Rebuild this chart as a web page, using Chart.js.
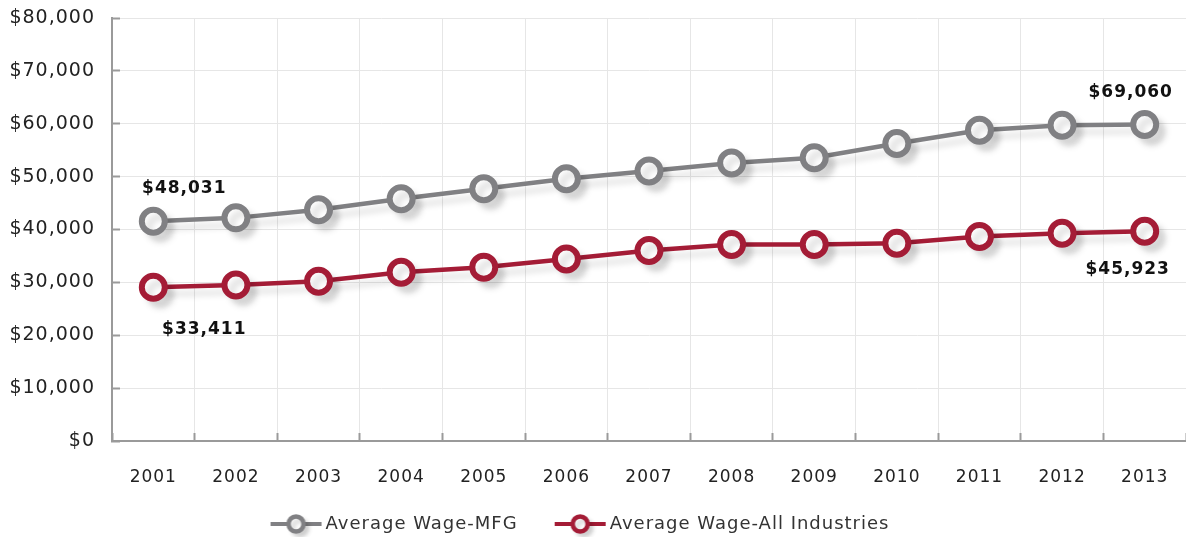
<!DOCTYPE html>
<html>
<head>
<meta charset="utf-8">
<script src="https://cdn.jsdelivr.net/npm/chart.js@4/dist/chart.umd.min.js"></script>
<style>
  html, body { margin: 0; padding: 0; background: #fff; }
  canvas { display: block; }
</style>
</head>
<body>
<canvas id="wageChart" width="1186" height="537"></canvas>
<script>
// ---- data ----
const years = ["2001", "2002", "2003", "2004", "2005", "2006", "2007", "2008", "2009", "2010", "2011", "2012", "2013"];
const wageMfg = [41570, 42200, 43740, 45820, 47720, 49610, 51050, 52570, 53590, 56250, 58770, 59720, 59850];
const wageAll = [29060, 29520, 30200, 31910, 32860, 34440, 36020, 37160, 37160, 37410, 38670, 39300, 39680];
const seriesNames = ["Average Wage-MFG", "Average Wage-All Industries"];
// value callouts: first and last point of each series
const mfgCallouts = ["$48,031", "$69,060"];
const allCallouts = ["$33,411", "$45,923"];

const GRAY = "#808083";
const RED = "#a41c36";
const FONT = "'DejaVu Sans', sans-serif";

// legend icon: short line with a ring in the middle
function legendIcon(color) {
  const c = document.createElement("canvas");
  c.width = 66;
  c.height = 30;
  const g = c.getContext("2d");
  g.strokeStyle = color;
  g.lineWidth = 4;
  g.beginPath();
  g.moveTo(12, 15);
  g.lineTo(63, 15);
  g.stroke();
  g.shadowColor = "rgba(0,0,0,0.15)";
  g.shadowOffsetX = 4;
  g.shadowOffsetY = 4;
  g.shadowBlur = 4;
  g.fillStyle = "#fff";
  g.lineWidth = 4.5;
  g.beginPath();
  g.arc(37.5, 15, 7.5, 0, Math.PI * 2);
  g.fill();
  g.stroke();
  return c;
}
const icons = [legendIcon(GRAY), legendIcon(RED)];

// letter spacing on the canvas (gets reset when the canvas is sized)
const spacing = {
  id: "spacing",
  beforeLayout(chart) { chart.ctx.letterSpacing = "1px"; },
  beforeDraw(chart) { chart.ctx.letterSpacing = "1px"; },
  // legend sits a bit left of centre in the original
  afterLayout(chart) { chart.legend.left -= 30; }
};

// soft drop shadow under lines and markers
const shadow = {
  id: "shadow",
  beforeDatasetsDraw(chart) {
    const ctx = chart.ctx;
    ctx.save();
    ctx.shadowColor = "rgba(0,0,0,0.13)";
    ctx.shadowOffsetX = 7;
    ctx.shadowOffsetY = 7;
    ctx.shadowBlur = 6;
  },
  afterDatasetsDraw(chart) {
    chart.ctx.restore();
  }
};

// bold value callouts next to first / last points
const callouts = {
  id: "callouts",
  afterDatasetsDraw(chart) {
    const ctx = chart.ctx;
    const last = years.length - 1;
    const m = chart.getDatasetMeta(0).data;
    const a = chart.getDatasetMeta(1).data;
    const items = [
      [mfgCallouts[0], m[0].x + 31, m[0].y - 33],
      [mfgCallouts[1], m[last].x - 14, m[last].y - 32],
      [allCallouts[0], a[0].x + 51, a[0].y + 42],
      [allCallouts[1], a[last].x - 17, a[last].y + 38]
    ];
    ctx.save();
    ctx.letterSpacing = "1px";
    ctx.font = "bold 17px " + FONT;
    ctx.fillStyle = "#111";
    ctx.textAlign = "center";
    ctx.textBaseline = "middle";
    items.forEach(([t, x, y]) => ctx.fillText(t, x, y));
    ctx.restore();
  }
};

new Chart(document.getElementById("wageChart"), {
  type: "line",
  data: {
    labels: years,
    datasets: [
      {
        label: seriesNames[0],
        data: wageMfg,
        borderColor: GRAY,
        borderWidth: 4.5,
        pointRadius: 11.5,
        pointHoverRadius: 11.5,
        pointBorderWidth: 6,
        pointBackgroundColor: "#fff",
        pointBorderColor: GRAY,
        tension: 0,
        clip: false
      },
      {
        label: seriesNames[1],
        data: wageAll,
        borderColor: RED,
        borderWidth: 4.5,
        pointRadius: 11.5,
        pointHoverRadius: 11.5,
        pointBorderWidth: 6,
        pointBackgroundColor: "#fff",
        pointBorderColor: RED,
        tension: 0,
        clip: false
      }
    ]
  },
  options: {
    responsive: false,
    animation: false,
    layout: { autoPadding: false, padding: { top: 18, right: 0, bottom: -6, left: 0 } },
    plugins: {
      tooltip: { enabled: false },
      legend: {
        position: "bottom",
        labels: {
          usePointStyle: true,
          pointStyleWidth: 50,
          padding: 33,
          color: "#333",
          font: { family: FONT, size: 18 },
          generateLabels: chart => chart.data.datasets.map((ds, i) => ({
            text: ds.label,
            pointStyle: icons[i],
            fillStyle: "#fff",
            strokeStyle: ds.borderColor,
            lineWidth: 0,
            hidden: false,
            datasetIndex: i,
            fontColor: "#333"
          }))
        }
      }
    },
    scales: {
      x: {
        offset: true,
        grid: {
          offset: true,
          color: "#e6e6e6",
          tickColor: "#9a9a9a",
          tickLength: -8,
          tickWidth: 2
        },
        border: { color: "#9a9a9a", width: 2 },
        ticks: {
          padding: 34,
          color: "#222",
          font: { family: FONT, size: 17 }
        },
        afterFit: s => {
          s.height = 41;
          s.paddingLeft = 0;
          s.paddingRight = 0;
        }
      },
      y: {
        min: 0,
        max: 80000,
        grid: {
          color: "#e6e6e6",
          tickColor: "#9a9a9a",
          tickLength: -8,
          tickWidth: 2
        },
        border: { color: "#9a9a9a", width: 2 },
        ticks: {
          stepSize: 10000,
          padding: 25,
          color: "#222",
          font: { family: FONT, size: 19 },
          callback: v => "$" + v.toLocaleString("en-US")
        },
        afterFit: s => {
          s.width = 112;
          s.paddingTop = 0;
          s.paddingBottom = 0;
        }
      }
    }
  },
  plugins: [spacing, shadow, callouts]
});
</script>
</body>
</html>
